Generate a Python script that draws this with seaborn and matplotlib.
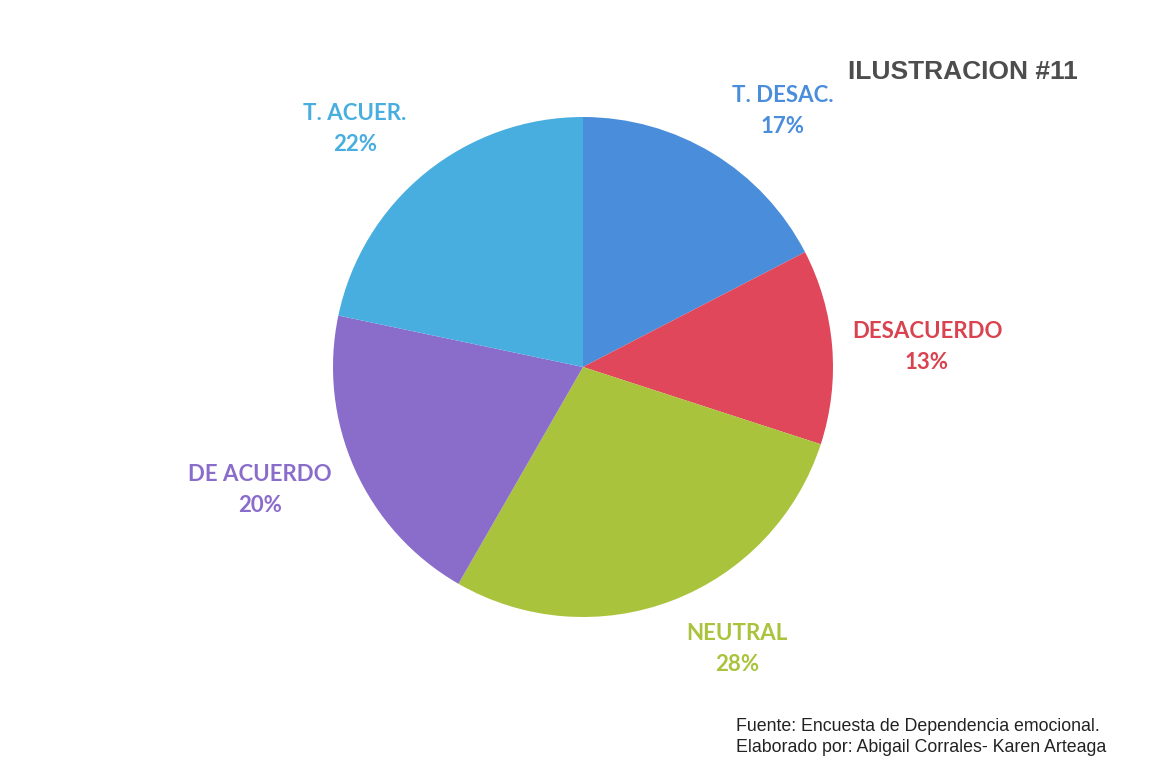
import matplotlib
matplotlib.use("Agg")
import matplotlib.pyplot as plt
import seaborn as sns

categories = ["T. DESAC.", "DESACUERDO", "NEUTRAL", "DE ACUERDO", "T. ACUER."]
shares = [17.4, 12.6, 28.3, 20.0, 21.7]          # slice sizes
pct_labels = [17, 13, 28, 20, 22]                # printed percentages
colors = ["#4a8edb", "#e0475a", "#a9c33c", "#8a6ccb", "#48aedf"]
label_colors = ["#4a8edb", "#d9424f", "#a9c33c", "#8a6ccb", "#48aedf"]
title_text = "ILUSTRACION #11"
footnote_lines = ["Fuente: Encuesta de Dependencia emocional.",
                  "Elaborado por: Abigail Corrales- Karen Arteaga"]

sns.set_style("white")
plt.rcParams["font.family"] = ["Lato", "DejaVu Sans"]

W, H = 1152, 777
fig = plt.figure(figsize=(W / 100, H / 100), dpi=100)
fig.patch.set_facecolor("white")

cx, cy, r = 583, 367, 250
ax = fig.add_axes([(cx - r) / W, (H - cy - r) / H, 2 * r / W, 2 * r / H])
ax.pie(shares, colors=colors, startangle=90, counterclock=False,
       radius=1.0, wedgeprops=dict(linewidth=0))
ax.set_xlim(-1, 1)
ax.set_ylim(-1, 1)
ax.set_aspect("equal")
ax.axis("off")

# label positions (pixel centers of the two-line labels)
label_pos = [(783, 111), (927, 347), (737, 649), (260, 490), (355, 129)]
for name, pct, (px, py), col in zip(categories, pct_labels, label_pos, label_colors):
    fig.text(px / W, 1 - py / H, f"{name}\n{pct}%", ha="center", va="center",
             color=col, fontsize=16, fontweight="bold", linespacing=1.55)

fig.text(848 / W, 1 - 72 / H, title_text, ha="left", va="center",
         fontsize=19, fontweight="bold", color="#4d4d4d",
         family=["Liberation Sans", "DejaVu Sans"])

fig.text(736 / W, 1 - 737 / H, "\n".join(footnote_lines), ha="left", va="center",
         fontsize=12.8, color="#222222", linespacing=1.3,
         family=["Liberation Sans", "DejaVu Sans"])

fig.savefig("out.png", dpi=100, facecolor="white")
